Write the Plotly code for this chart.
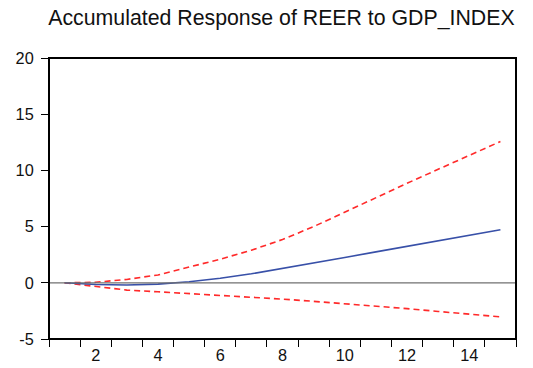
import plotly.graph_objects as go

periods = list(range(1, 16))
response = [0.0, -0.15, -0.2, -0.12, 0.1, 0.4, 0.8, 1.27, 1.75, 2.25, 2.75, 3.25, 3.73, 4.22, 4.72]
upper = [0.0, 0.05, 0.3, 0.7, 1.4, 2.1, 2.9, 3.85, 5.0, 6.3, 7.6, 8.85, 10.1, 11.35, 12.57]
lower = [0.0, -0.35, -0.65, -0.8, -0.95, -1.1, -1.25, -1.45, -1.65, -1.85, -2.05, -2.3, -2.55, -2.8, -3.03]
x_labels = [2, 4, 6, 8, 10, 12, 14]
y_ticks = [-5, 0, 5, 10, 15, 20]

red = "#FF2A2A"
blue = "#3850A8"

fig = go.Figure()
fig.add_hline(y=0, line=dict(color="#707070", width=1.3))
fig.add_trace(go.Scatter(x=periods, y=upper, mode="lines",
                         line=dict(color=red, width=1.6, dash="6px,4px")))
fig.add_trace(go.Scatter(x=periods, y=lower, mode="lines",
                         line=dict(color=red, width=1.6, dash="6px,4px")))
fig.add_trace(go.Scatter(x=periods, y=response, mode="lines",
                         line=dict(color=blue, width=1.6)))

font = dict(family="Liberation Sans, Arial, sans-serif", color="#111111")

fig.update_layout(
    width=533, height=368,
    margin=dict(l=49, r=17, t=58, b=29),
    paper_bgcolor="white", plot_bgcolor="white",
    showlegend=False,
    font=dict(size=16.3, **font),
    title=dict(text="Accumulated Response of REER to GDP_INDEX",
               x=0.528, xref="container", xanchor="center",
               y=1 - 18 / 368, yref="container", yanchor="middle",
               font=dict(size=21.3, **font)),
    xaxis=dict(range=[0.5, 15.5], tickmode="array", tickvals=x_labels,
               ticktext=[str(v) for v in x_labels], ticks="", ticklen=0,
               showgrid=False, zeroline=False, showline=False,
               ticklabelstandoff=5, automargin=False,
               minor=dict(ticks="outside", tick0=0.5, dtick=1, ticklen=7,
                          tickcolor="black", tickwidth=1, showgrid=False)),
    yaxis=dict(range=[-5, 20], tickmode="array", tickvals=y_ticks,
               ticktext=[str(v) for v in y_ticks],
               ticks="outside", ticklen=7, tickcolor="black", tickwidth=1,
               showgrid=False, zeroline=False, showline=False,
               ticklabelstandoff=4, automargin=False),
)
fig.add_shape(type="rect", xref="paper", yref="paper", x0=0, x1=1, y0=0, y1=1,
              line=dict(color="black", width=2), layer="above")

fig.write_html("out.html")
